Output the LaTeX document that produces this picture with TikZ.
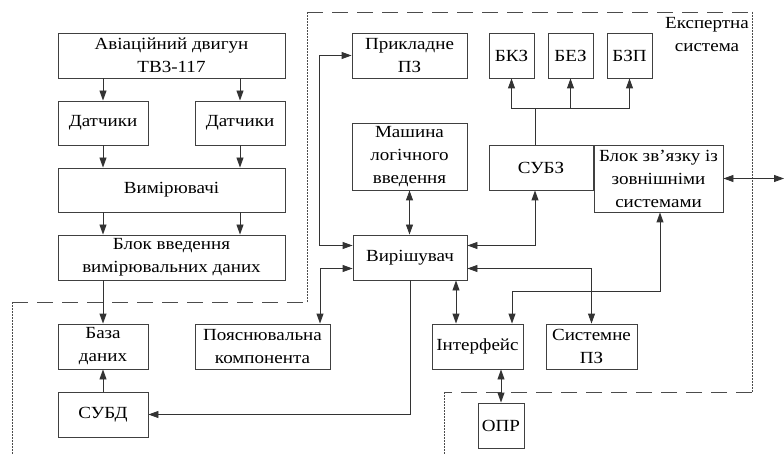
\documentclass[tikz,border=0pt]{standalone}
\usepackage{fontspec}
\setmainfont{Liberation Serif}[FakeStretch=1.12]
\usetikzlibrary{arrows.meta}

\begin{document}
\begin{tikzpicture}[x=1pt,y=-1pt,<->,>={Triangle[length=10pt,width=7pt]},
  line width=0.9pt,draw=black!80,
  block/.style 2 args={draw=black!75,fill=white,align=center,inner sep=0pt,
    minimum width=#1pt,minimum height=#2pt,font=\rmfamily\fontsize{17}{23}\selectfont},
  hdash/.style={-,draw=black!70,dash pattern=on 16pt off 9pt},
  vdash/.style={-,draw=black!70,dash pattern=on 2pt off 1pt}]
  \useasboundingbox (0,0) rectangle (784,454);
  % expert system boundary
  \draw[hdash] (12,302) -- (307,302);
  \draw[hdash] (307,12) -- (752,12);
  \draw[hdash] (752,392) -- (444,392);
  \draw[vdash] (12,454) -- (12,302);
  \draw[vdash] (307,302) -- (307,12);
  \draw[vdash] (752,12) -- (752,392);
  \draw[vdash] (444,392) -- (444,454);
  \node[align=center,font=\rmfamily\fontsize{17}{23}\selectfont] (es) at (707,35) {Експертна\\система};
  % measuring side
  \node[block={227}{45}] (eng) at (171.5,55.5) {Авіаційний двигун\\ТВ3-117};
  \node[block={90}{44}] (dat1) at (103,123) {Датчики};
  \node[block={90}{44}] (dat2) at (240,123) {Датчики};
  \node[block={227}{44}] (vym) at (171.5,190) {Вимірювачі};
  \node[block={227}{45}] (bvd) at (171.5,257.5) {Блок введення\\вимірювальних даних};
  \node[block={90}{45}] (bd) at (103,346.5) {База\\даних};
  \node[block={90}{45}] (subd) at (103,414.5) {СУБД};
  \node[block={135}{45}] (poyas) at (262.5,346.5) {Пояснювальна\\компонента};
  % expert system
  \node[block={114}{45}] (vyr) at (410,257.5) {Вирішувач};
  \node[block={115}{45}] (prykl) at (409.5,55.5) {Прикладне\\ПЗ};
  \node[block={115}{67}] (mash) at (409.5,156.5) {Машина\\логічного\\введення};
  \node[block={45}{45}] (bkz) at (511.5,55.5) {БКЗ};
  \node[block={45}{45}] (bez) at (570.5,55.5) {БЕЗ};
  \node[block={45}{45}] (bzp) at (629.5,55.5) {БЗП};
  \node[block={104}{45}] (subz) at (541,167.5) {СУБЗ};
  \node[block={129}{67}] (bzz) at (658.5,178.5) {Блок зв’язку із\\зовнішніми\\системами};
  \node[block={91}{45}] (intf) at (477.5,346.5) {Інтерфейс};
  \node[block={91}{45}] (syspz) at (591.5,346.5) {Системне\\ПЗ};
  \node[block={46}{45}] (opr) at (501,425.5) {ОПР};
  \coordinate (ext) at (784,178.5);

  % measuring chain
  \draw[->] (eng.south -| dat1.north) -- (dat1.north);
  \draw[->] (eng.south -| dat2.north) -- (dat2.north);
  \draw[->] (dat1.south) -- (vym.north -| dat1.south);
  \draw[->] (dat2.south) -- (vym.north -| dat2.south);
  \draw[->] (vym.south -| dat1.south) -- (bvd.north -| dat1.south);
  \draw[->] (vym.south -| dat2.south) -- (bvd.north -| dat2.south);
  \draw[->] (bvd.south -| bd.north) -- (bd.north);
  \draw[->] (subd.north) -- (bd.south);
  \draw[->] (vyr.south) |- (subd.east);

  % solver links
  \draw (prykl.west) -- ++(-32,0) |- ([yshift=12pt]vyr.west);
  \draw ([yshift=-11pt]vyr.west) -| ([xshift=57.5pt]poyas.north);
  \draw (mash.south) -- (mash.south |- vyr.north);
  \draw ([yshift=12pt]vyr.east) -| ([xshift=-6pt]subz.south);
  \draw ([yshift=-11pt]vyr.east) -| (syspz.north);
  \draw ([xshift=46pt]vyr.south) -- ([xshift=-21.5pt]intf.north);
  \draw ([xshift=23.5pt]intf.south) -- (opr.north);
  \draw ([xshift=1.5pt]bzz.south) |- (512,291) -- ([xshift=34.5pt]intf.north);
  \draw (bzz.east) -- (ext);

  % knowledge blocks
  \draw[-] ([xshift=-6pt]subz.north) -- ++(0,-36) coordinate (hub);
  \draw[->] (hub) -| (bkz.south);
  \draw[->] (hub) -| (bzp.south);
  \draw[->] (bez.south |- hub) -- (bez.south);
\end{tikzpicture}
\end{document}
